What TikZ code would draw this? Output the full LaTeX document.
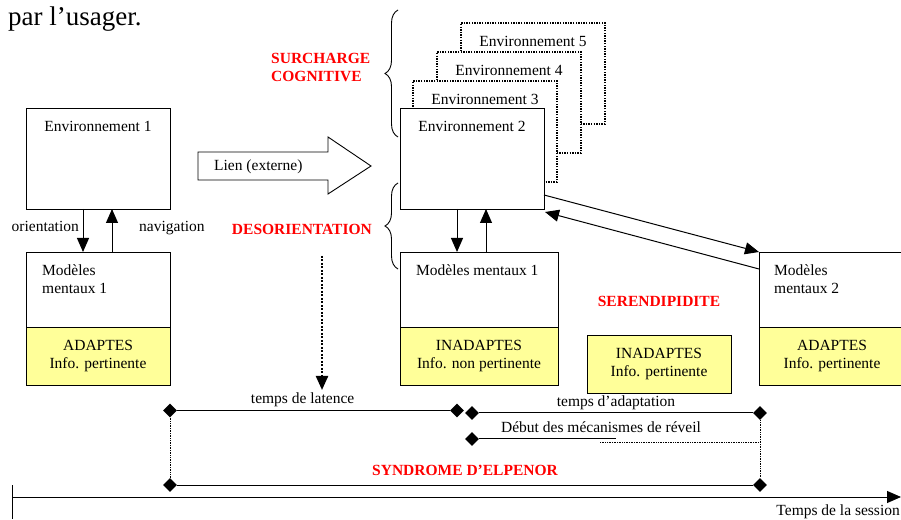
\documentclass[tikz,border=0pt]{standalone}
\usepackage{fontspec}
\setmainfont{Liberation Serif}
\usepackage{xcolor}
\usepackage{tikz}
\usetikzlibrary{arrows.meta,decorations.pathreplacing,positioning,shapes.geometric}
\definecolor{paleyellow}{RGB}{255,255,153}

\tikzset{
    envbox/.style={draw, fill=white, line width=0.9pt, outer sep=0pt,
                   minimum width=144pt, minimum height=101pt},
    envdots/.style={envbox, line width=1.4pt, dash pattern=on 1.4pt off 1.2pt},
    modbox/.style={draw, fill=white, line width=0.9pt, outer sep=0pt, minimum height=75pt},
    infobox/.style={draw, fill=paleyellow, line width=0.9pt, outer sep=0pt,
                    minimum height=58pt, align=center},
    boxtext/.style={align=left},
    redlab/.style={text=red, align=left, font=\fontsize{15.5}{18}\selectfont\bfseries},
    dmd/.style={diamond, fill=black, minimum size=14pt},
    arr/.style={line width=1pt, -{Triangle[width=12pt,length=14pt]}},
    tline/.style={line width=1pt},
    fatdots/.style={line width=2.2pt, dash pattern=on 2pt off 1.5pt},
    thindots/.style={line width=0.8pt, dash pattern=on 0.8pt off 0.9pt},
    brc/.style={decorate, decoration={brace, amplitude=13pt}, line width=0.9pt}
}

\begin{document}
\begin{tikzpicture}[x=1pt, y=1pt,
                    every node/.style={inner sep=0pt, font=\fontsize{15.5}{18}\selectfont}]
                \useasboundingbox (0,0) rectangle (901,519);

                \node [anchor=base west, font=\fontsize{27}{31}\selectfont]
                                        (usager) at (8,493) {par l’usager.};

                \node [envbox] (env1) at (98,360.5) {};
                \node [boxtext, below=13pt of env1.north] (env1t) {Environnement 1};

                \node [envdots] (env5) at (533,445.5) {};
                \node [boxtext, below=13pt of env5.north] (env5t) {Environnement 5};
                \node [envdots] (env4) at (509,416.5) {};
                \node [boxtext, below=13pt of env4.north] (env4t) {Environnement 4};
                \node [envdots] (env3) at (485,387.5) {};
                \node [boxtext, below=13pt of env3.north] (env3t) {Environnement 3};
                \node [envbox] (env2) at (472,360.5) {};
                \node [boxtext, below=13pt of env2.north] (env2t) {Environnement 2};

                \node [modbox, minimum width=144pt] (mm1a) at (98,229.5) {};
                \node [infobox, minimum width=144pt, below=0pt of mm1a]
                                        (info1a) {ADAPTES\\Info. pertinente};
                \node [boxtext, anchor=north west]
                            (mm1at) at ([shift={(16pt,-13pt)}]mm1a.north west) {Modèles\\mentaux 1};

                \node [modbox, minimum width=158pt] (mm1b) at (479,229.5) {};
                \node [infobox, minimum width=158pt, below=0pt of mm1b]
                                        (info1b) {INADAPTES\\Info. non pertinente};
                \node [boxtext, anchor=north west]
                            (mm1bt) at ([shift={(16pt,-13pt)}]mm1b.north west) {Modèles mentaux 1};

                \node [infobox, minimum width=144pt] (infoser) at (659,155) {INADAPTES\\Info. pertinente};
                \node [redlab, anchor=base] (seren) at (659,212) {SERENDIPIDITE};

                \node [modbox, minimum width=146pt] (mm2) at (832,229.5) {};
                \node [infobox, minimum width=146pt, below=0pt of mm2]
                                        (info2) {ADAPTES\\Info. pertinente};
                \node [boxtext, anchor=north west]
                            (mm2t) at ([shift={(15pt,-13pt)}]mm2.north west) {Modèles\\mentaux 2};

                \draw [arr] ([xshift=-15pt]env1.south) -- ([xshift=-15pt]mm1a.north);
                \draw [arr] ([xshift=14pt]mm1a.north) -- ([xshift=14pt]env1.south);
                \node [anchor=base east] (orient) at (79,287) {orientation};
                \node [anchor=base west] (navig) at (139,287) {navigation};

                \coordinate (dn2) at ([xshift=-15pt]env2.south);
                \coordinate (up2) at ([xshift=14pt]env2.south);
                \draw [arr] (dn2) -- (dn2 |- mm1b.north);
                \draw [arr] (up2 |- mm1b.north) -- (up2);

                \draw [arr] ([yshift=14pt]env2.south east) -- (mm2.north west);
                \draw [arr] ([yshift=-17pt]mm2.north west) -- ([shift={(1pt,-3pt)}]env2.south east);

                \draw [line width=0.9pt, fill=white]
                        (198,367) -- (328,367) -- (328,382) -- (371,353)
                        -- (328,325) -- (328,339) -- (198,339) -- cycle;
                \node [anchor=west] (lien) at (214,352) {Lien (externe)};

                \draw [brc] (398,382) -- (398,509);
                \draw [brc] (398,250) -- (398,336);
                \node [redlab, anchor=north west] (surch) at (271,466) {SURCHARGE\\COGNITIVE};
                \node [redlab, anchor=base east] (desor) at (372,284) {DESORIENTATION};

                \coordinate (lat1) at (322,263);
                \coordinate (lat2) at (322,129);
                \draw [arr, fatdots] (lat1) -- (lat2);

                \node [dmd] (dlat0) at (170,108.5) {};
                \node [dmd] (dlat1) at (457,108.5) {};
                \node [dmd] (dad0) at (472,106) {};
                \node [dmd] (dad1) at (760,106) {};
                \node [dmd] (dre0) at (472,80) {};
                \node [dmd] (dsy0) at (170,34) {};
                \node [dmd] (dsy1) at (760,34) {};

                \draw [tline] (dlat0) -- (dlat1)
                            node [pos=.46, above=3pt] (latt) {temps de latence};
                \draw [tline] (dad0) -- (dad1)
                            node [midway, above=2.5pt] (adapt) {temps d’adaptation};
                \coordinate (rev1) at (616,80);
                \coordinate (rev2) at (600,77);
                \draw [tline] (dre0) -- (rev1);
                \node [anchor=base] (reveil) at (601,86) {Début des mécanismes de réveil};
                \draw [thindots] (rev2) -- (rev2 -| dad1);
                \draw [thindots] (dad1) -- (dsy1);
                \draw [thindots] (dlat0) -- (dsy0);
                \draw [tline] (dsy0) -- (dsy1)
                            node [midway, above=9pt, redlab] (elpen) {SYNDROME D’ELPENOR};

                \coordinate (ts0) at (12,22);
                \coordinate (ts1) at (901,22);
                \draw [arr] (ts0) -- (ts1);
                \draw [tline] ([yshift=12pt]ts0) -- ([yshift=-22pt]ts0);
                \node [anchor=base east] (tsess) at (900,4) {Temps de la session};
\end{tikzpicture}
\end{document}
